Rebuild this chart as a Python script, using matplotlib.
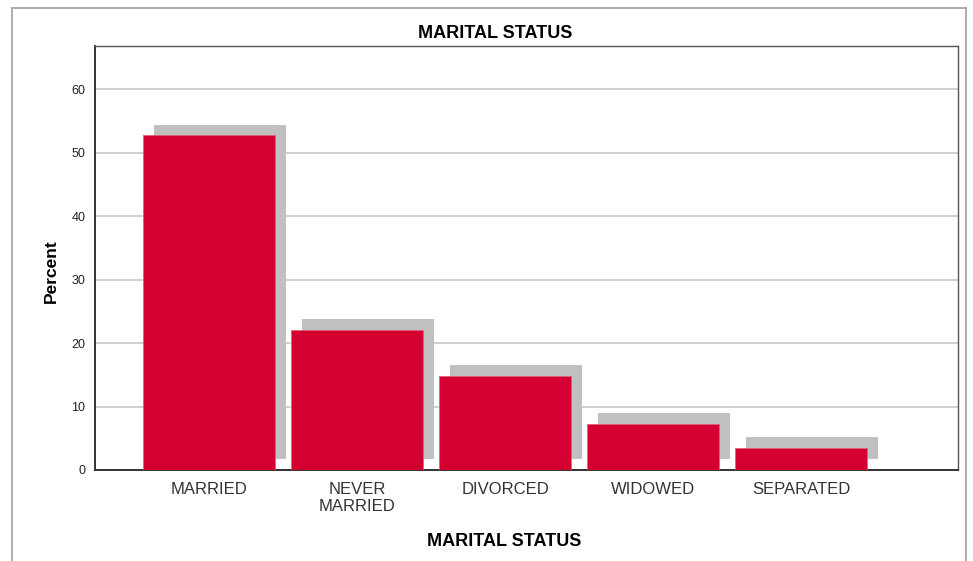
import numpy as np
import matplotlib.pyplot as plt
from matplotlib.patches import Rectangle

plt.rcParams['font.family'] = ['Liberation Sans', 'DejaVu Sans']

categories = ['MARRIED', 'NEVER\nMARRIED', 'DIVORCED', 'WIDOWED', 'SEPARATED']
percent = [52.7, 22.1, 14.8, 7.3, 3.5]
yticks = [0, 10, 20, 30, 40, 50, 60]

W, H = 973, 561
fig = plt.figure(figsize=(W / 100, H / 100), dpi=100)

# outer chart frame (open at the bottom)
fig.add_artist(plt.Line2D([12 / W, 12 / W], [0, 1 - 8 / H], color='#a0a0a0', lw=1.2))
fig.add_artist(plt.Line2D([966 / W, 966 / W], [0, 1 - 8 / H], color='#a0a0a0', lw=1.2))
fig.add_artist(plt.Line2D([12 / W, 966 / W], [1 - 8 / H, 1 - 8 / H], color='#a0a0a0', lw=1.2))

ax = fig.add_axes([95 / W, 1 - 470 / H, (958 - 95) / W, (470 - 46) / H])

x = np.arange(len(categories))
width = 0.89
dx, dy = 0.074, 1.73  # drop shadow offset

for xi, v in zip(x, percent):
    ax.add_patch(Rectangle((xi - width / 2 + dx, dy), width, v, facecolor='#c0c0c0',
                           edgecolor='none', zorder=2))
ax.bar(x, percent, width=width, color='#d50032', edgecolor='#e0607a', linewidth=0.6, zorder=3)

ax.set_xlim(-0.77, 5.06)
ax.set_ylim(0, 66.8)
ax.set_yticks(yticks)
ax.set_xticks(x)
ax.set_xticklabels(categories, fontsize=12, color='#333333', linespacing=1.15)
ax.tick_params(axis='y', length=0, labelsize=9, pad=7, colors='#222222')
ax.tick_params(axis='x', length=0, pad=9)
ax.yaxis.grid(True, color='#c8c8c8', lw=1.2, zorder=0)
ax.set_axisbelow(True)

for side in ['top', 'right']:
    ax.spines[side].set_color('#555555')
    ax.spines[side].set_linewidth(1.0)
for side in ['left', 'bottom']:
    ax.spines[side].set_color('#333333')
    ax.spines[side].set_linewidth(1.4)

ax.set_ylabel('Percent', fontsize=12.5, fontweight='bold')
ax.yaxis.set_label_coords(-(95 - 51) / (958 - 95), (470 - 271) / (470 - 46))
ax.yaxis.label.set_va('center')
ax.set_xlabel('MARITAL STATUS', fontsize=13, fontweight='bold')
ax.xaxis.set_label_coords((504 - 95) / (958 - 95), -(542 - 470) / (470 - 46))
ax.xaxis.label.set_va('center')
fig.text(495 / W, 1 - 33 / H, 'MARITAL STATUS', ha='center', va='center',
         fontsize=13, fontweight='bold')

fig.savefig('out.png', dpi=100)
